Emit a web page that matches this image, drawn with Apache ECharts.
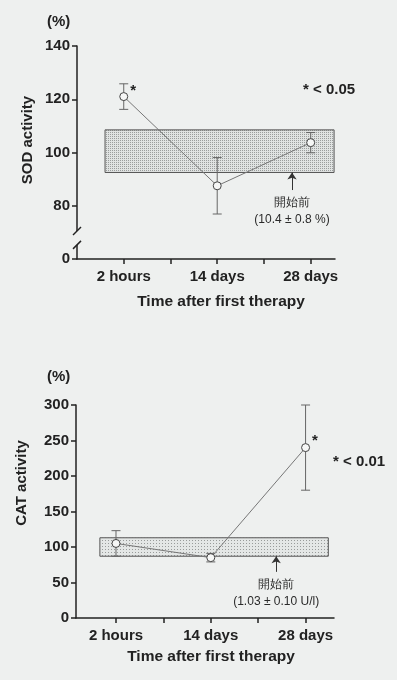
<!DOCTYPE html>
<html>
<head>
<meta charset="utf-8">
<script src="https://cdn.jsdelivr.net/npm/echarts@6/dist/echarts.min.js"></script>
<style>
  html, body { margin: 0; padding: 0; background: #eef0ef; }
  #chart { width: 397px; height: 680px; }
</style>
</head>
<body>
<div id="chart"></div>
<script>
// x categories (value axis positions 1..3)
const timePoints = ['2 hours', '14 days', '28 days'];

// SOD activity (%), mean and error
const sodMean = [121, 87.5, 103.7];
const sodErr = [4.8, 10.6, 3.8];
const sodBand = [92.5, 108.5];     // pre-treatment range
const sodBandX = [0.8, 3.25];
const sodArrow = [2.8, 85.9];      // x, y of arrow tail

// CAT activity (%), mean and error
const catMean = [105, 85, 240];
const catErr = [18, 6, 60];
const catBand = [87, 113];
const catBandX = [0.83, 3.24];
const catArrow = [2.69, 65];

const FONT = '"Liberation Sans", Arial, sans-serif';
const INK = '#222';
const BG = '#eef0ef';

function stipple(step, dot, bg) {
  const c = document.createElement('canvas');
  c.width = c.height = step;
  const ctx = c.getContext('2d');
  ctx.fillStyle = bg;
  ctx.fillRect(0, 0, step, step);
  ctx.fillStyle = dot;
  ctx.fillRect(0, 0, 1, 1);
  return { image: c, repeat: 'repeat' };
}

function errorBars(means, errs, gi) {
  return {
    type: 'custom',
    xAxisIndex: gi, yAxisIndex: gi,
    z: 3,
    silent: true,
    encode: { x: 0, y: [1, 2] },
    data: means.map((m, i) => [i + 1, m - errs[i], m + errs[i]]),
    renderItem: (params, api) => {
      const lo = api.coord([api.value(0), api.value(1)]);
      const hi = api.coord([api.value(0), api.value(2)]);
      const w = 4.5;
      const style = { stroke: '#666', lineWidth: 1 };
      return {
        type: 'group',
        children: [
          { type: 'line', shape: { x1: lo[0], y1: lo[1], x2: hi[0], y2: hi[1] }, style },
          { type: 'line', shape: { x1: lo[0] - w, y1: lo[1], x2: lo[0] + w, y2: lo[1] }, style },
          { type: 'line', shape: { x1: hi[0] - w, y1: hi[1], x2: hi[0] + w, y2: hi[1] }, style }
        ]
      };
    }
  };
}

function meanLine(means, starIdx, starOffset, gi) {
  return {
    type: 'line',
    xAxisIndex: gi, yAxisIndex: gi,
    z: 4,
    silent: true,
    symbol: 'circle',
    symbolSize: 8,
    itemStyle: { color: '#f6f7f6', borderColor: '#444', borderWidth: 1 },
    lineStyle: { color: '#777', width: 1 },
    data: means.map((m, i) => {
      const item = { value: [i + 1, m] };
      if (i === starIdx) {
        item.label = {
          show: true, formatter: '*', position: 'right', distance: 2,
          offset: starOffset, fontFamily: FONT, fontWeight: 'bold', fontSize: 15, color: INK
        };
      }
      return item;
    })
  };
}

function bandSeries(band, bandX, arrow, note, fill, gi) {
  return {
    type: 'line',
    xAxisIndex: gi, yAxisIndex: gi,
    z: 1,
    data: [],
    markArea: {
      silent: true,
      itemStyle: { color: fill, borderColor: '#555', borderWidth: 1 },
      data: [[{ xAxis: bandX[0], yAxis: band[0] }, { xAxis: bandX[1], yAxis: band[1] }]]
    },
    markLine: {
      silent: true,
      symbol: ['none', 'arrow'],
      symbolSize: 7,
      lineStyle: { color: '#333', type: 'solid', width: 1 },
      label: {
        show: true, position: 'start', distance: 4, formatter: note,
        fontFamily: FONT, fontSize: 12, color: '#2a2a2a', lineHeight: 17
      },
      data: [[{ coord: [arrow[0], arrow[1]] }, { coord: [arrow[0], band[0]] }]]
    }
  };
}

const axisLine = { lineStyle: { color: INK, width: 1.5 } };
const axisTick = { length: 5, lineStyle: { color: INK, width: 1.5 } };
const labelBase = { fontFamily: FONT, fontWeight: 'bold', fontSize: 15, color: INK };

function xAxis(gi, min, max) {
  return {
    type: 'value', gridIndex: gi, min, max,
    axisLine, splitLine: { show: false },
    axisTick: { ...axisTick, customValues: [1, 1.5, 2, 2.5, 3] },
    axisLabel: {
      ...labelBase, margin: 10,
      customValues: [1, 2, 3],
      formatter: v => timePoints[Math.round(v) - 1]
    }
  };
}

const chart = echarts.init(document.getElementById('chart'));

const option = {
  backgroundColor: BG,
  animation: false,
  grid: [
    { left: 77, top: 46, width: 258, height: 213 },
    { left: 76, top: 405, width: 258, height: 213 }
  ],
  xAxis: [xAxis(0, 0.5, 3.26), xAxis(1, 0.578, 3.3)],
  yAxis: [
    {
      type: 'value', gridIndex: 0, min: 60, max: 140, interval: 20,
      axisLine: { show: true, ...axisLine }, axisTick: { show: true, ...axisTick },
      splitLine: { show: false },
      axisLabel: { ...labelBase, margin: 7, formatter: v => (v === 60 ? '0' : v) }
    },
    {
      type: 'value', gridIndex: 1, min: 0, max: 300, interval: 50,
      axisLine: { show: true, ...axisLine }, axisTick: { show: true, ...axisTick },
      splitLine: { show: false },
      axisLabel: { ...labelBase, margin: 7 }
    }
  ],
  series: [
    bandSeries(sodBand, sodBandX, sodArrow, '開始前\n(10.4 ± 0.8 %)', stipple(2, '#9a9d9c', '#e0e3e2'), 0),
    errorBars(sodMean, sodErr, 0),
    meanLine(sodMean, 0, [0, -6], 0),
    bandSeries(catBand, catBandX, catArrow, '開始前\n(1.03 ± 0.10 U/l)', stipple(3, '#989b9a', '#e4e7e6'), 1),
    errorBars(catMean, catErr, 1),
    meanLine(catMean, 2, [0, -7], 1)
  ]
};
chart.setOption(option);

// texts and the broken-axis marks on the SOD axis
const txt = (text, x, y, extra) => ({
  type: 'text', x, y, silent: true,
  style: { text, fontFamily: FONT, fontWeight: 'bold', fontSize: 15, fill: INK,
    textAlign: 'left', textVerticalAlign: 'middle', ...extra }
});
const rotated = (text, x, y) => ({
  ...txt(text, x, y, { textAlign: 'center' }), rotation: Math.PI / 2
});

const up = chart.convertToPixel({ gridIndex: 0 }, [0.5, 70.5]);
const low = chart.convertToPixel({ gridIndex: 0 }, [0.5, 65.3]);
const ax = up[0];
const slash = (y) => ({
  type: 'line', silent: true, z: 100,
  shape: { x1: ax - 4, y1: y + 4, x2: ax + 4, y2: y - 4 },
  style: { stroke: INK, lineWidth: 1.5 }
});

chart.setOption({
  graphic: [
    txt('(%)', 47, 22),
    rotated('SOD activity', 28, 140),
    txt('* < 0.05', 303, 90),
    txt('Time after first therapy', 221, 302, { textAlign: 'center', fontSize: 15.5 }),
    txt('(%)', 47, 377),
    rotated('CAT activity', 22, 483),
    txt('* < 0.01', 333, 462),
    txt('Time after first therapy', 211, 657, { textAlign: 'center', fontSize: 15.5 }),
    {
      type: 'rect', silent: true, z: 99,
      shape: { x: ax - 3, y: up[1], width: 6, height: low[1] - up[1] },
      style: { fill: BG }
    },
    slash(up[1]),
    slash(low[1])
  ]
});
</script>
</body>
</html>
